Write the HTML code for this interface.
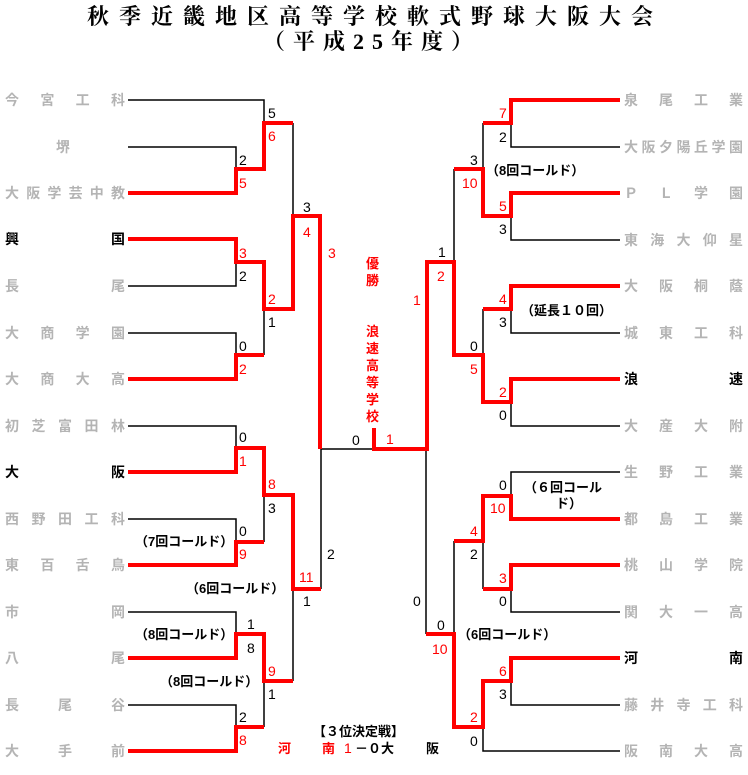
<!DOCTYPE html>
<html><head><meta charset="utf-8"><style>
html,body{margin:0;padding:0;background:#fff;}
svg{display:block;}
text{font-family:"Liberation Sans","Noto Sans CJK JP",sans-serif;}
.t{font-family:"Liberation Serif","Noto Serif CJK SC",serif;font-weight:bold;font-size:22px;fill:#000;}
.n{font-size:14px;font-weight:bold;fill:#b4b4b4;}
.nb{font-size:14px;font-weight:bold;fill:#000;}
.s{font-size:14px;fill:#000;}
.r{font-size:14px;fill:#f00;}
.c{font-size:13px;font-weight:bold;fill:#000;}
.v{font-size:13px;font-weight:bold;fill:#f00;}
</style></head><body>
<svg width="748" height="775" viewBox="0 0 748 775" xmlns="http://www.w3.org/2000/svg">
<text class="t" x="375" y="24" text-anchor="middle" letter-spacing="10">秋季近畿地区高等学校軟式野球大阪大会</text>
<text class="t" x="372" y="49" text-anchor="middle" letter-spacing="8">（平成25年度）</text>

<g fill="none" stroke="#000" stroke-width="1.5">
<path d="M128,100 H264 V123 M128,147 H236 V169 M293,123 V216 M128,286 H236 V262 M128,333 H236 V355 M264,355 V309 M128,426 H236 V448 M128,519 H236 V542 M264,542 V495 M128,612 H236 V634 M293,681 V589 M128,705 H236 V727 M264,727 V681 M321,589 V449 H374 M321,449 V456"/>
<path d="M620,147 H511 V123 M483,123 V169 M620,240 H511 V216 M454,169 V262 M483,309 V355 M620,333 H511 V309 M620,426 H511 V402 M426,449 V634 M620,472 H511 V496 M454,541 V634 M483,589 V541 M620,612 H511 V589 M620,705 H511 V681 M620,751 H483 V727"/>
</g>
<g fill="none" stroke="#f00" stroke-width="4" stroke-linejoin="miter">
<path d="M128,193 H236 V169 H264 V123 H293"/>
<path d="M128,239 H236 V262 H264 V309 H293 V216 H320 V449"/>
<path d="M128,379 H236 V355 H264"/>
<path d="M374,428 V449 H427 V262 H454 V355 H483 V402 H511 V379 H620"/>
<path d="M620,100 H511 V123 H483"/>
<path d="M620,193 H511 V216 H483 V169 H454"/>
<path d="M620,286 H511 V309 H483"/>
<path d="M128,472 H236 V448 H264 V495 H293 V589 H321"/>
<path d="M128,565 H236 V542 H264"/>
<path d="M128,658 H236 V634 H264 V681 H293"/>
<path d="M128,751 H236 V727 H264"/>
<path d="M620,519 H511 V496 H483 V541 H454"/>
<path d="M620,565 H511 V589 H483"/>
<path d="M620,658 H511 V681 H483 V727 H454 V634 H426"/>
</g>

<!-- left names -->
<g class="n">
<text x="5" y="105" textLength="120" lengthAdjust="spacing">今宮工科</text>
<text x="56" y="152">堺</text>
<text x="5" y="198" textLength="120" lengthAdjust="spacing">大阪学芸中教</text>
<text x="5" y="291" textLength="120" lengthAdjust="spacing">長尾</text>
<text x="5" y="338" textLength="120" lengthAdjust="spacing">大商学園</text>
<text x="5" y="384" textLength="120" lengthAdjust="spacing">大商大高</text>
<text x="5" y="431" textLength="120" lengthAdjust="spacing">初芝富田林</text>
<text x="5" y="524" textLength="120" lengthAdjust="spacing">西野田工科</text>
<text x="5" y="570" textLength="120" lengthAdjust="spacing">東百舌鳥</text>
<text x="5" y="617" textLength="120" lengthAdjust="spacing">市岡</text>
<text x="5" y="663" textLength="120" lengthAdjust="spacing">八尾</text>
<text x="5" y="710" textLength="120" lengthAdjust="spacing">長尾谷</text>
<text x="5" y="756" textLength="120" lengthAdjust="spacing">大手前</text>
</g>
<text class="nb" x="5" y="244" textLength="120" lengthAdjust="spacing">興国</text>
<text class="nb" x="5" y="477" textLength="120" lengthAdjust="spacing">大阪</text>
<!-- right names -->
<g class="n">
<text x="624" y="105" textLength="119" lengthAdjust="spacing">泉尾工業</text>
<text x="624" y="152" textLength="119" lengthAdjust="spacing">大阪夕陽丘学園</text>
<text x="624" y="198" textLength="119" lengthAdjust="spacing">ＰＬ学園</text>
<text x="624" y="245" textLength="119" lengthAdjust="spacing">東海大仰星</text>
<text x="624" y="291" textLength="119" lengthAdjust="spacing">大阪桐蔭</text>
<text x="624" y="338" textLength="119" lengthAdjust="spacing">城東工科</text>
<text x="624" y="431" textLength="119" lengthAdjust="spacing">大産大附</text>
<text x="624" y="477" textLength="119" lengthAdjust="spacing">生野工業</text>
<text x="624" y="524" textLength="119" lengthAdjust="spacing">都島工業</text>
<text x="624" y="570" textLength="119" lengthAdjust="spacing">桃山学院</text>
<text x="624" y="617" textLength="119" lengthAdjust="spacing">関大一高</text>
<text x="624" y="710" textLength="119" lengthAdjust="spacing">藤井寺工科</text>
<text x="624" y="756" textLength="119" lengthAdjust="spacing">阪南大高</text>
</g>
<text class="nb" x="624" y="384" textLength="119" lengthAdjust="spacing">浪速</text>
<text class="nb" x="624" y="663" textLength="119" lengthAdjust="spacing">河南</text>

<!-- left scores -->
<text class="s" x="268" y="118">5</text><text class="r" x="268" y="141">6</text>
<text class="s" x="239" y="165">2</text><text class="r" x="239" y="188">5</text>
<text class="s" x="303" y="212">3</text><text class="r" x="303" y="237">4</text>
<text class="r" x="328" y="258">3</text>
<text class="r" x="239" y="258">3</text><text class="s" x="239" y="281">2</text>
<text class="r" x="268" y="304">2</text><text class="s" x="268" y="327">1</text>
<text class="s" x="239" y="351">0</text><text class="r" x="239" y="374">2</text>
<text class="s" x="239" y="442">0</text><text class="r" x="239" y="466">1</text>
<text class="r" x="268" y="489">8</text><text class="s" x="268" y="513">3</text>
<text class="s" x="239" y="536">0</text><text class="r" x="239" y="559">9</text>
<text class="c" x="135" y="546">（7回コールド）</text>
<text class="c" x="186" y="593">（6回コールド）</text>
<text class="r" x="299" y="582">11</text>
<text class="s" x="327" y="559">2</text>
<text class="s" x="303" y="606">1</text>
<text class="s" x="247" y="629">1</text>
<text class="c" x="135" y="639">（8回コールド）</text>
<text class="s" x="247" y="653">8</text>
<text class="r" x="268" y="676">9</text>
<text class="c" x="160" y="686">（8回コールド）</text>
<text class="s" x="268" y="699">1</text>
<text class="s" x="239" y="722">2</text><text class="r" x="239" y="745">8</text>

<!-- center -->
<text class="v" x="366" y="268">優</text>
<text class="v" x="366" y="285">勝</text>
<text class="v" x="366" y="336">浪</text>
<text class="v" x="366" y="353">速</text>
<text class="v" x="366" y="370">高</text>
<text class="v" x="366" y="387">等</text>
<text class="v" x="366" y="404">学</text>
<text class="v" x="366" y="421">校</text>
<text class="s" x="352" y="445">0</text>
<text class="r" x="386" y="444">1</text>

<!-- right scores -->
<text class="r" x="499" y="118">7</text><text class="s" x="499" y="142">2</text>
<text class="s" x="470" y="165">3</text><text class="r" x="462" y="188">10</text>
<text class="c" x="486" y="175">（8回コールド）</text>
<text class="r" x="499" y="211">5</text><text class="s" x="499" y="234">3</text>
<text class="s" x="438" y="257">1</text><text class="r" x="437" y="281">2</text>
<text class="r" x="413" y="305">1</text>
<text class="r" x="499" y="304">4</text><text class="s" x="499" y="327">3</text>
<text class="c" x="521" y="315">（延長１０回）</text>
<text class="s" x="470" y="351">0</text><text class="r" x="470" y="374">5</text>
<text class="r" x="499" y="397">2</text><text class="s" x="499" y="420">0</text>
<text class="s" x="499" y="490">0</text>
<text class="c" x="524" y="492">（６回コール</text>
<text class="c" x="556" y="508">ド）</text>
<text class="r" x="490" y="513">10</text>
<text class="r" x="470" y="536">4</text><text class="s" x="470" y="559">2</text>
<text class="r" x="499" y="583">3</text><text class="s" x="499" y="606">0</text>
<text class="s" x="413" y="606">0</text>
<text class="s" x="437" y="630">0</text>
<text class="c" x="458" y="639">（6回コールド）</text>
<text class="r" x="432" y="654">10</text>
<text class="r" x="499" y="676">6</text><text class="s" x="499" y="699">3</text>
<text class="r" x="470" y="722">2</text><text class="s" x="470" y="746">0</text>

<!-- 3rd place -->
<text class="c" x="313" y="736">【３位決定戦】</text>
<text class="v" x="278" y="753">河</text>
<text class="v" x="322" y="753">南</text>
<text class="r" x="344" y="753">1</text>
<text class="c" x="355" y="753">－０大</text>
<text class="c" x="426" y="753">阪</text>
</svg>
</body></html>
